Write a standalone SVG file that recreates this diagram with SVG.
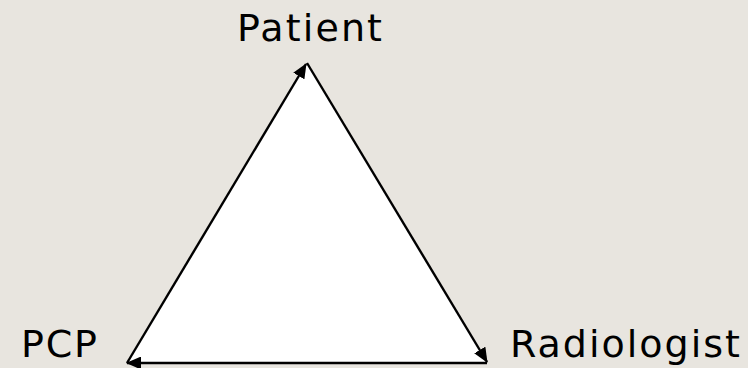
<svg xmlns="http://www.w3.org/2000/svg" width="748" height="368" viewBox="0 0 748 368">
<defs>
<style>
.lbl{font-family:"DejaVu Sans","Liberation Sans",sans-serif;font-size:38px;fill:#000;}
.edge{stroke:#000;stroke-width:2.4;fill:none;}
</style>
<marker id="ah" viewBox="0 0 15 13" refX="14" refY="6.5" markerWidth="15" markerHeight="13" markerUnits="userSpaceOnUse" orient="auto">
<path d="M0,0 L15,6.5 L0,13 Z" fill="#000"/>
</marker>
</defs>
<rect width="748" height="368" fill="#E8E5DF"/>
<polygon points="307,63 127,363 487,363" fill="#FFFFFF"/>
<g id="connectors">
<line class="edge" x1="127" y1="363" x2="306" y2="64" marker-end="url(#ah)"/>
<line class="edge" x1="307" y1="63" x2="487" y2="362" marker-end="url(#ah)"/>
<line class="edge" x1="487" y1="363" x2="127" y2="363" marker-end="url(#ah)"/>
</g>
<g id="patient"><text class="lbl" x="237" y="41" textLength="145" lengthAdjust="spacing">Patient</text></g>
<g id="pcp"><text class="lbl" x="21" y="357" textLength="76" lengthAdjust="spacing">PCP</text></g>
<g id="radiologist"><text class="lbl" x="510" y="357" textLength="230" lengthAdjust="spacing">Radiologist</text></g>
</svg>
